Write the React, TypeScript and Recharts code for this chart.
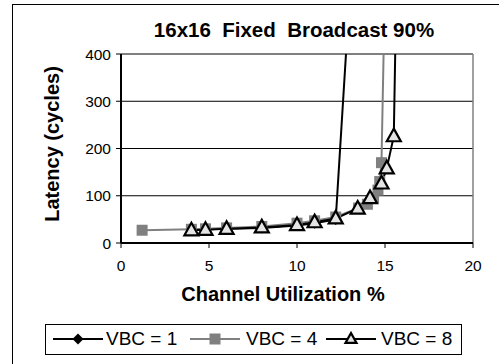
import React from "react";
import {
  LineChart,
  Line,
  XAxis,
  YAxis,
  CartesianGrid,
  ReferenceLine,
} from "recharts";

// Channel utilization (%) and latency (cycles) per virtual broadcast channel count
const vbc1X = [4.0, 4.8, 6.0, 8.0, 10.0, 11.0, 12.2, 13.0];
const vbc1Y = [28, 29, 30, 32, 37, 42, 50, 530];

const vbc4X = [1.2, 4.0, 4.8, 6.0, 8.0, 10.0, 11.0, 12.2, 13.5, 14.0, 14.35, 14.6, 14.7, 14.8, 15.0];
const vbc4Y = [27, 29, 30, 32, 35, 42, 47, 55, 74, 82, 96, 112, 130, 170, 555];

const vbc8X = [4.0, 4.8, 6.0, 8.0, 10.0, 11.0, 12.2, 13.45, 14.15, 14.8, 15.1, 15.5, 15.75];
const vbc8Y = [27, 28, 30, 33, 38, 44, 52, 73, 95, 126, 158, 226, 770];

const xTicks = [0, 5, 10, 15, 20];
const yTicks = [0, 100, 200, 300, 400];

const seriesNames = ["VBC = 1", "VBC = 4", "VBC = 8"];

const toPoints = (xs: number[], ys: number[]) =>
  xs.map((x, i) => ({ x, y: ys[i] }));

const data1 = toPoints(vbc1X, vbc1Y);
const data4 = toPoints(vbc4X, vbc4Y);
const data8 = toPoints(vbc8X, vbc8Y);

const FONT = "'Liberation Sans', Arial, sans-serif";

const Diamond = ({ cx, cy, r = 5.5 }: { cx: number; cy: number; r?: number }) => (
  <polygon
    points={`${cx},${cy - r} ${cx + r},${cy} ${cx},${cy + r} ${cx - r},${cy}`}
    fill="#000"
  />
);

const Square = ({ cx, cy, s = 11 }: { cx: number; cy: number; s?: number }) => (
  <rect x={cx - s / 2} y={cy - s / 2} width={s} height={s} fill="#808080" />
);

const Triangle = ({ cx, cy, w = 14 }: { cx: number; cy: number; w?: number }) => {
  const h = w * 0.9;
  return (
    <polygon
      points={`${cx},${cy - h * 0.6} ${cx + w / 2},${cy + h * 0.4} ${cx - w / 2},${cy + h * 0.4}`}
      fill="#e4e4e4"
      stroke="#000"
      strokeWidth={2.2}
      strokeLinejoin="miter"
    />
  );
};

const dot1 = (p: any) => <Diamond key={`d1-${p.index}`} cx={p.cx} cy={p.cy} />;
const dot4 = (p: any) => <Square key={`d4-${p.index}`} cx={p.cx} cy={p.cy} />;
const dot8 = (p: any) => <Triangle key={`d8-${p.index}`} cx={p.cx} cy={p.cy} />;

// legend entries: line start and text start, relative to the legend box
const legendLineX = [7, 144, 280];
const legendTextX = [60, 200, 335];

const LegendBox = () => {
  const markers = [
    <Diamond cx={25} cy={8} />,
    <Square cx={25} cy={8} />,
    <Triangle cx={25} cy={8} w={11} />,
  ];
  const colors = ["#000", "#808080", "#000"];
  return (
    <div
      style={{
        position: "absolute",
        left: 45,
        top: 324,
        width: 417,
        height: 31,
        border: "1px solid #000",
        boxSizing: "border-box",
        fontFamily: FONT,
        fontSize: 19,
        color: "#000",
        whiteSpace: "nowrap",
      }}
    >
      {seriesNames.map((name, i) => (
        <React.Fragment key={name}>
          <svg
            width={50}
            height={16}
            style={{ position: "absolute", left: legendLineX[i], top: 6 }}
          >
            <line x1={0} y1={8} x2={50} y2={8} stroke={colors[i]} strokeWidth={2} />
            {markers[i]}
          </svg>
          <span style={{ position: "absolute", left: legendTextX[i], top: 3, lineHeight: "22px" }}>
            {name}
          </span>
        </React.Fragment>
      ))}
    </div>
  );
};

export default function App() {
  return (
    <div
      style={{
        position: "absolute",
        left: 0,
        top: 0,
        width: 499,
        height: 364,
        background: "#fff",
        overflow: "hidden",
        fontFamily: FONT,
      }}
    >
      <div
        style={{
          position: "absolute",
          left: 12,
          top: 4,
          width: 600,
          height: 600,
          borderLeft: "1.5px solid #000",
          borderTop: "1.5px solid #000",
        }}
      />
      <div style={{ position: "absolute", left: 0, top: 0 }}>
        <LineChart
          width={499}
          height={364}
          margin={{ top: 54, right: 26, bottom: 0, left: 0 }}
        >
          <CartesianGrid horizontal vertical={false} stroke="#000" strokeWidth={1} />
          <XAxis
            type="number"
            dataKey="x"
            domain={[0, 20]}
            ticks={xTicks}
            height={121}
            tickSize={5}
            axisLine={{ stroke: "#000", strokeWidth: 2 }}
            tickLine={{ stroke: "#000", strokeWidth: 1 }}
            tick={{ fill: "#000", fontSize: 15.5, fontFamily: FONT, dy: 10 }}
            allowDataOverflow
          />
          <YAxis
            type="number"
            domain={[0, 400]}
            ticks={yTicks}
            width={121}
            tickSize={5}
            axisLine={{ stroke: "#000", strokeWidth: 2 }}
            tickLine={{ stroke: "#000", strokeWidth: 1 }}
            tick={{ fill: "#000", fontSize: 15.5, fontFamily: FONT, dx: -3 }}
            allowDataOverflow
          />
          <ReferenceLine x={20} stroke="#808080" strokeWidth={1.5} />
          <Line
            data={data1}
            dataKey="y"
            stroke="#000"
            strokeWidth={2}
            dot={dot1}
            isAnimationActive={false}
          />
          <Line
            data={data4}
            dataKey="y"
            stroke="#808080"
            strokeWidth={2}
            dot={dot4}
            isAnimationActive={false}
          />
          <Line
            data={data8}
            dataKey="y"
            stroke="#000"
            strokeWidth={2}
            dot={dot8}
            isAnimationActive={false}
          />
        </LineChart>
      </div>
      <div
        style={{
          position: "absolute",
          left: 0,
          width: 588,
          top: 18,
          textAlign: "center",
          fontSize: 20.5,
          fontWeight: "bold",
          whiteSpace: "pre",
        }}
      >
        {"16x16  Fixed  Broadcast 90%"}
      </div>
      <div
        style={{
          position: "absolute",
          left: 0,
          width: 566,
          top: 283,
          textAlign: "center",
          fontSize: 20,
          fontWeight: "bold",
          whiteSpace: "nowrap",
        }}
      >
        Channel Utilization %
      </div>
      <div
        style={{
          position: "absolute",
          left: 52,
          top: 144,
          transform: "translate(-50%, -50%) rotate(-90deg)",
          fontSize: 20,
          fontWeight: "bold",
          whiteSpace: "nowrap",
        }}
      >
        Latency (cycles)
      </div>
      <LegendBox />
    </div>
  );
}
